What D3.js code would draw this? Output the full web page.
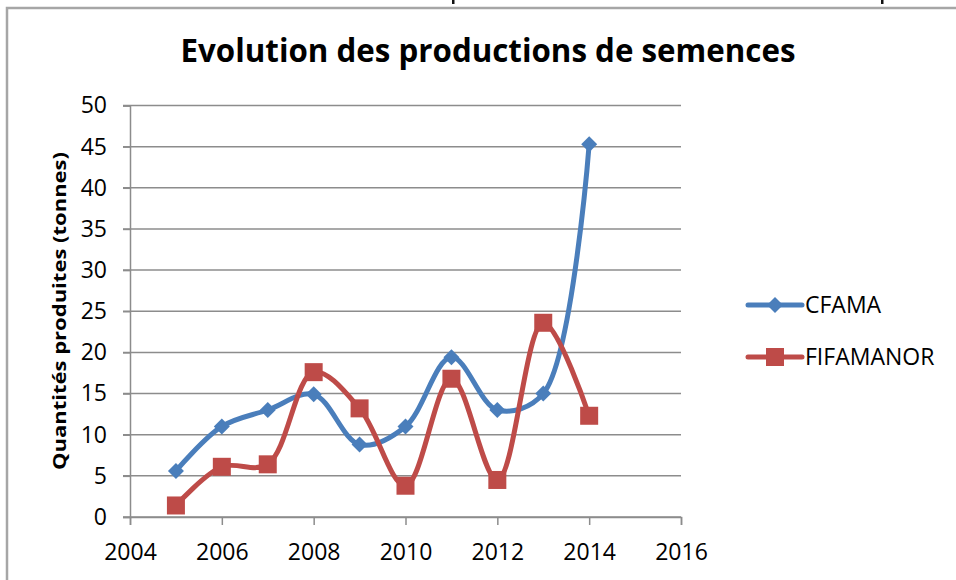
<!DOCTYPE html>
<html>
<head>
<meta charset="utf-8">
<script src="https://cdn.jsdelivr.net/npm/d3@7"></script>
<style>
  body { margin: 0; background: #fff; }
  svg { display: block; }
  text { fill: #000; }
</style>
</head>
<body>
<svg></svg>
<script>
var years = [2005, 2006, 2007, 2008, 2009, 2010, 2011, 2012, 2013, 2014];
var cfama = [5.6, 11.0, 13.0, 14.9, 8.8, 11.0, 19.4, 13.0, 15.0, 45.3];
var fifamanor = [1.4, 6.1, 6.4, 17.6, 13.2, 3.8, 16.8, 4.5, 23.6, 12.3];
var xTicks = [2004, 2006, 2008, 2010, 2012, 2014, 2016];
var yTicks = [0, 5, 10, 15, 20, 25, 30, 35, 40, 45, 50];
var seriesNames = ['CFAMA', 'FIFAMANOR'];

var width = 956, height = 580;
var svg = d3.select('svg')
    .attr('width', width)
    .attr('height', height);

var blue = '#4a7ebb', red = '#be4b48', grid = '#8c8c8c';

// frame of the chart (only top and left edges visible)
svg.append('path')
    .attr('d', 'M7,' + height + 'V8H' + width)
    .attr('fill', 'none')
    .attr('stroke', '#a6a6a6')
    .attr('stroke-width', 2.5);

// bits of text cut at the top of the picture
[453, 882].forEach((x) => {
    svg.append('rect').attr('x', x - 1).attr('y', 0).attr('width', 2.5).attr('height', 4).attr('fill', '#111');
});

var x = d3.scaleLinear().domain([2004, 2016]).range([130, 681]);
var y = d3.scaleLinear().domain([0, 50]).range([517, 105.5]);

svg.append('text')
    .attr('x', 488).attr('y', 62)
    .attr('text-anchor', 'middle')
    .attr('font-family', 'Open Sans, sans-serif')
    .attr('font-weight', 'bold')
    .attr('font-size', 32)
    .attr('textLength', 615)
    .attr('lengthAdjust', 'spacingAndGlyphs')
    .text('Evolution des productions de semences');

// gridlines
svg.append('g')
    .selectAll('line')
    .data(yTicks)
    .enter()
    .append('line')
        .attr('x1', 123).attr('x2', 681)
        .attr('y1', (d) => y(d)).attr('y2', (d) => y(d))
        .attr('stroke', grid)
        .attr('stroke-width', 1.5);

// axes
var yAxis = svg.append('g')
    .attr('transform', 'translate(130,0)')
    .call(d3.axisLeft(y).tickValues(yTicks).tickSize(7).tickPadding(16));
var xAxis = svg.append('g')
    .attr('transform', 'translate(0,' + y(0) + ')')
    .call(d3.axisBottom(x).tickValues(xTicks).tickFormat(d3.format('d')).tickSize(8).tickPadding(17));

[yAxis, xAxis].forEach((g) => {
    g.select('.domain').attr('stroke', grid).attr('stroke-width', 1.5);
    g.selectAll('.tick line').attr('stroke', grid).attr('stroke-width', 1.5);
    g.selectAll('.tick text')
        .attr('font-family', 'Open Sans, sans-serif')
        .attr('font-size', 23)
        .attr('fill', '#111');
});
xAxis.selectAll('.tick text').attr('dy', '0.8em');

svg.append('text')
    .attr('transform', 'translate(66,311) rotate(-90)')
    .attr('text-anchor', 'middle')
    .attr('font-family', 'Open Sans, sans-serif')
    .attr('font-weight', 'bold')
    .attr('font-size', 17)
    .attr('textLength', 318)
    .attr('lengthAdjust', 'spacingAndGlyphs')
    .text('Quantités produites (tonnes)');

var line = d3.line()
    .x((d, i) => x(years[i]))
    .y((d) => y(d))
    .curve(d3.curveCatmullRom.alpha(0.5));

var diamond = (cx, cy, r) => 'M' + cx + ',' + (cy - r) + 'L' + (cx + r) + ',' + cy +
    'L' + cx + ',' + (cy + r) + 'L' + (cx - r) + ',' + cy + 'Z';

// CFAMA
svg.append('path')
    .attr('d', line(cfama))
    .attr('fill', 'none')
    .attr('stroke', blue)
    .attr('stroke-width', 5)
    .attr('stroke-linejoin', 'round');
svg.append('g')
    .selectAll('path')
    .data(cfama)
    .enter()
    .append('path')
        .attr('d', (d, i) => diamond(x(years[i]), y(d), 8))
        .attr('fill', blue);

// FIFAMANOR
svg.append('path')
    .attr('d', line(fifamanor))
    .attr('fill', 'none')
    .attr('stroke', red)
    .attr('stroke-width', 5)
    .attr('stroke-linejoin', 'round');
svg.append('g')
    .selectAll('rect')
    .data(fifamanor)
    .enter()
    .append('rect')
        .attr('x', (d, i) => x(years[i]) - 9)
        .attr('y', (d) => y(d) - 9)
        .attr('width', 18).attr('height', 18)
        .attr('fill', red);

// legend
var legend = svg.append('g');
var colors = [blue, red];
seriesNames.forEach((name, i) => {
    var ly = 305 + i * 52;
    legend.append('line')
        .attr('x1', 748).attr('x2', 802)
        .attr('y1', ly).attr('y2', ly)
        .attr('stroke', colors[i])
        .attr('stroke-width', 5)
        .attr('stroke-linecap', 'round');
    if (i === 0) {
        legend.append('path').attr('d', diamond(775, ly, 8)).attr('fill', colors[i]);
    } else {
        legend.append('rect').attr('x', 766).attr('y', ly - 9).attr('width', 18).attr('height', 18).attr('fill', colors[i]);
    }
    legend.append('text')
        .attr('x', 805).attr('y', ly + 8)
        .attr('font-family', 'Open Sans, sans-serif')
        .attr('font-size', 23)
        .text(name);
});
</script>
</body>
</html>
